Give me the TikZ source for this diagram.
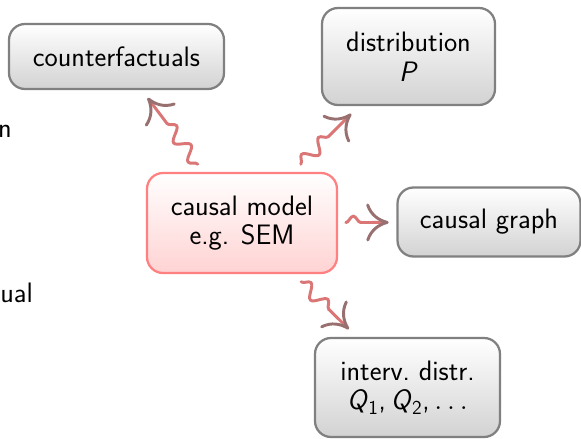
\documentclass[tikz,border=0pt]{standalone}
\usepackage{fontspec}
\usetikzlibrary{arrows.meta,decorations.pathmorphing}

\definecolor{linkpink}{RGB}{218,118,118}
\definecolor{linkbrown}{RGB}{152,112,112}
\definecolor{modelpink}{RGB}{255,128,128}

\newcommand{\svar}[1]{\textit{#1}}

\tikzset{
	box/.style={draw=gray!100, line width=1.6pt, rounded corners=0.4cm,
		top color=white, bottom color=gray!35, align=center, inner sep=0pt,
		outer sep=0.22cm, font=\sffamily\fontsize{20}{21}\selectfont},
	modelbox/.style={box, draw=modelpink, top color=white, bottom color=modelpink!35},
	cutoff/.style={inner sep=0pt, anchor=base east, font=\sffamily\fontsize{20}{21}\selectfont},
	link/.style={draw=linkpink, line width=2.1pt, line cap=round,
		decorate, decoration={snake, amplitude=0.16cm, segment length=0.6cm,
			post length=0.65cm},
		-{To[length=16pt,width=27pt,color=linkbrown]}}
}

\begin{document}
\begin{tikzpicture}
	
	\useasboundingbox (0,0) rectangle (14.525,-10.975);
	
	% Text cut off at the left border
	\node[cutoff] (cutA) at (0.30,-3.45) {n};
	\node[cutoff] (cutB) at (0.83,-7.55) {ual};
	
	% The causal model in the middle
	\node[modelbox, minimum width=4.75cm, minimum height=2.5cm] (model) at (6.05,-5.575)
		{causal model\\ e.g. SEM};
	
	% What the model gives
	\node[box, minimum width=5.375cm, minimum height=1.625cm] (counter) at (2.9125,-1.4125)
		{counterfactuals};
	\node[box, minimum width=4.325cm, minimum height=2.425cm] (distr) at (10.2125,-1.4125)
		{distribution\\ \svar{P}};
	\node[box, minimum width=4.575cm, minimum height=1.725cm] (graph) at (12.225,-5.55)
		{causal graph};
	\node[box, minimum width=4.625cm, minimum height=2.475cm] (interv) at (10.1875,-9.6875)
		{interv.\ distr.\\ \svar{Q}\textsubscript{1},\,\svar{Q}\textsubscript{2},\,$\ldots$};
	
	% Snake arrows out of the model
	\draw[link] (model) -- (counter);
	\draw[link] (model) -- (distr);
	\draw[link] (model) -- (graph);
	\draw[link] (model) -- (interv);
	
\end{tikzpicture}
\end{document}
